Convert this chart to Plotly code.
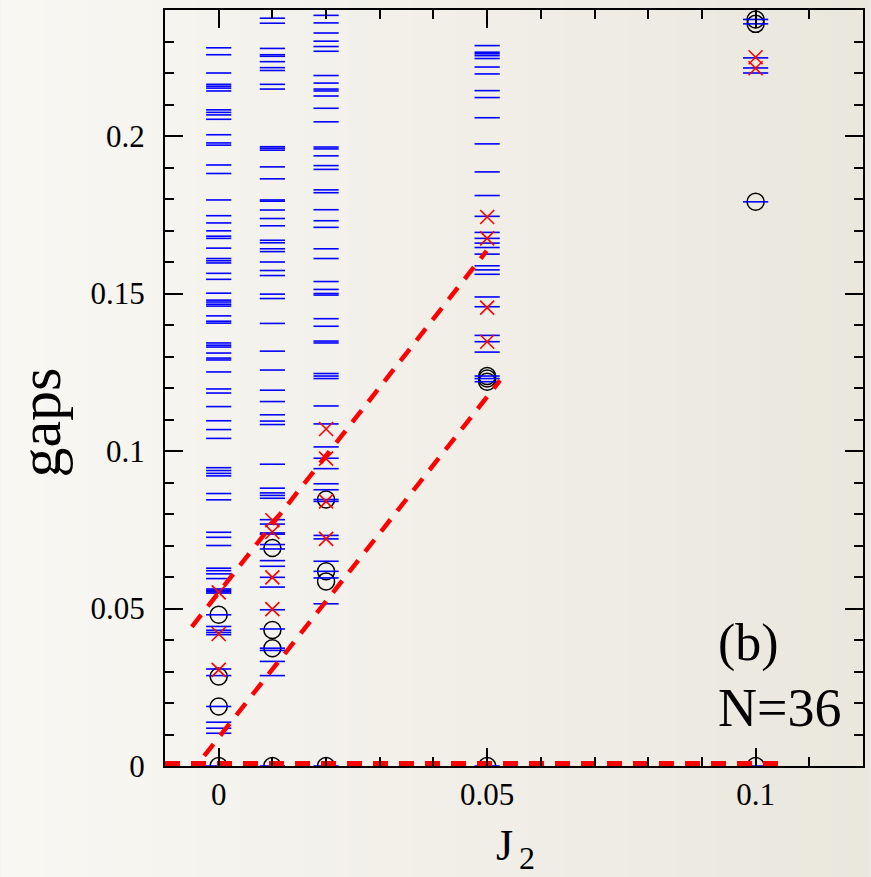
import plotly.graph_objects as go

# ---------------- data ----------------
J2_values = [0.0, 0.01, 0.02, 0.05, 0.1]

# blue dashes (spectrum levels)
blue_j000 = [0.2280, 0.2258, 0.2200, 0.2164, 0.2158, 0.2152, 0.2143, 0.2083, 0.2075, 0.2067,
             0.2053, 0.2004, 0.1978, 0.1971, 0.1908, 0.1881, 0.1797, 0.1747, 0.1724, 0.1699,
             0.1682, 0.1675, 0.1644, 0.1611, 0.1604, 0.1597, 0.1564, 0.1545, 0.1501, 0.1479,
             0.1473, 0.1466, 0.1460, 0.1429, 0.1412, 0.1406, 0.1343, 0.1336, 0.1330, 0.1311,
             0.1295, 0.1289, 0.1251, 0.1197, 0.1184, 0.1141, 0.1096, 0.1068, 0.1040, 0.0947,
             0.0938, 0.0929, 0.0921, 0.0865, 0.0845, 0.0742, 0.0726, 0.0700, 0.0628, 0.0620,
             0.0610, 0.0595, 0.0562, 0.0558, 0.0553, 0.0549, 0.0480, 0.0443, 0.0431, 0.0424,
             0.0417, 0.0308, 0.0287, 0.0189, 0.0139, 0.0120, 0.0104, 0.0]
blue_j001 = [0.2374, 0.2358, 0.2278, 0.2258, 0.2253, 0.2236, 0.2217, 0.2208, 0.2164, 0.2149,
             0.1966, 0.1961, 0.1955, 0.1902, 0.1864, 0.1797, 0.1793, 0.1765, 0.1738, 0.1715,
             0.1669, 0.1661, 0.1642, 0.1633, 0.1600, 0.1573, 0.1557, 0.1498, 0.1484, 0.1405,
             0.1317, 0.1257, 0.1193, 0.1157, 0.1115, 0.1095, 0.1084, 0.0958, 0.0882, 0.0867,
             0.0859, 0.0850, 0.0782, 0.0768, 0.0740, 0.0736, 0.0703, 0.0689, 0.0652, 0.0634,
             0.0599, 0.0568, 0.0496, 0.0435, 0.0374, 0.0367, 0.0332, 0.0287, 0.0]
blue_j002 = [0.2383, 0.2359, 0.2327, 0.2301, 0.2284, 0.2269, 0.2192, 0.2168, 0.2149, 0.2143,
             0.2127, 0.2088, 0.2045, 0.1965, 0.1959, 0.1937, 0.1906, 0.1894, 0.1829, 0.1820,
             0.1766, 0.1731, 0.1710, 0.1642, 0.1611, 0.1538, 0.1513, 0.1500, 0.1495, 0.1420,
             0.1396, 0.1349, 0.1343, 0.1246, 0.1238, 0.1230, 0.1143, 0.1086, 0.1013, 0.0977,
             0.0944, 0.0896, 0.0877, 0.0846, 0.0840, 0.0732, 0.0721, 0.0650, 0.0618, 0.0597,
             0.0515, 0.0]
blue_j005 = [0.2287, 0.2266, 0.2261, 0.2255, 0.2246, 0.2219, 0.2197, 0.2144, 0.2122, 0.2058,
             0.1975, 0.1886, 0.1811, 0.1745, 0.1694, 0.1675, 0.1660, 0.1646, 0.1625, 0.1588,
             0.1575, 0.1561, 0.1489, 0.1458, 0.1367, 0.1347, 0.1314, 0.1238, 0.1230, 0.1220, 0.0]
blue_j010 = [0.2370, 0.2356, 0.2248, 0.2216, 0.2200, 0.1791, 0.0]

# black circles
circ_j000 = [0.0480, 0.0284, 0.0189, 0.0]
circ_j001 = [0.0692, 0.0432, 0.0374, 0.0]
circ_j002 = [0.0846, 0.0618, 0.0586, 0.0]
circ_j005 = [0.1238, 0.1230, 0.1220, 0.0]
circ_j010 = [0.2370, 0.2356, 0.1791, 0.0]

# red crosses
cross_j000 = [0.0551, 0.0419, 0.0305]
cross_j001 = [0.0780, 0.0743, 0.0599, 0.0498]
cross_j002 = [0.1070, 0.0976, 0.0840, 0.0721]
cross_j005 = [0.1743, 0.1675, 0.1455, 0.1347]
cross_j010 = [0.2250, 0.2215]

# red dashed guide lines
upper_fit_x = [-0.005, 0.0499]
upper_fit_y = [0.0442, 0.1635]
lower_fit_x = [-0.0027, 0.0524]
lower_fit_y = [0.0032, 0.1224]
zero_fit_x = [-0.01, 0.1056]
zero_fit_y = [0.0, 0.0]

x_ticks = [0, 0.05, 0.1]
x_ticklabels = ["0", "0.05", "0.1"]
y_ticks = [0, 0.05, 0.1, 0.15, 0.2]
y_ticklabels = ["0", "0.05", "0.1", "0.15", "0.2"]

# ---------------- figure ----------------
def flatten(cols):
    xs, ys = [], []
    for xv, col in zip(J2_values, cols):
        xs += [xv] * len(col)
        ys += col
    return xs, ys

fig = go.Figure()

cx, cy = flatten([circ_j000, circ_j001, circ_j002, circ_j005, circ_j010])
fig.add_trace(go.Scatter(x=cx, y=cy, mode="markers",
                         marker=dict(symbol="circle-open", size=17, color="black",
                                     line=dict(color="black", width=1.5))))

bx, by = flatten([blue_j000, blue_j001, blue_j002, blue_j005, blue_j010])
fig.add_trace(go.Scatter(x=bx, y=by, mode="markers",
                         marker=dict(symbol="line-ew", size=18, color="#0000ff",
                                     line=dict(color="#0000ff", width=1.6))))

rx, ry = flatten([cross_j000, cross_j001, cross_j002, cross_j005, cross_j010])
fig.add_trace(go.Scatter(x=rx, y=ry, mode="markers",
                         marker=dict(symbol="x-thin", size=14, color="#ff0000",
                                     line=dict(color="#ff0000", width=1.6))))

for lx, ly, w in [(upper_fit_x, upper_fit_y, 4.5), (lower_fit_x, lower_fit_y, 4.5),
                  (zero_fit_x, zero_fit_y, 10)]:
    fig.add_trace(go.Scatter(x=lx, y=ly, mode="lines",
                             line=dict(color="#ff0000", width=w, dash="15px,11px")))

# background gradient strips
shapes = []
n = 40
x_left = -165 / 700
x_right = 1 + 6 / 700
c0 = (248, 247, 243)
c1 = (234, 231, 221)
for i in range(n):
    t = i / (n - 1)
    col = tuple(round(a + (b - a) * t) for a, b in zip(c0, c1))
    xa = x_left + (x_right - x_left) * i / n
    xb = x_left + (x_right - x_left) * (i + 1) / n + 0.002
    shapes.append(dict(type="rect", xref="paper", yref="paper", x0=xa, x1=xb,
                       y0=-0.2, y1=1.05, fillcolor="rgb(%d,%d,%d)" % col,
                       line=dict(width=0), layer="below"))

font_family = "Liberation Serif, Times New Roman, serif"

axis_common = dict(showline=True, linecolor="black", linewidth=2, mirror="allticks",
                   ticks="inside", ticklen=18, tickwidth=1.5, tickcolor="black",
                   showgrid=False, zeroline=False,
                   tickfont=dict(family=font_family, size=31, color="black"))

fig.update_layout(
    width=871, height=877,
    margin=dict(l=165, r=6, t=10, b=111),
    paper_bgcolor="#f3f2ec",
    plot_bgcolor="rgba(0,0,0,0)",
    showlegend=False,
    shapes=shapes,
    xaxis=dict(range=[-0.01, 0.12], tickmode="array", tickvals=x_ticks, ticktext=x_ticklabels,
               minor=dict(ticks="inside", ticklen=9, tickwidth=1.5, tickcolor="black",
                          dtick=0.01, tick0=0),
               ticklabelstandoff=0, **axis_common),
    yaxis=dict(range=[0, 0.24], tickmode="array", tickvals=y_ticks, ticktext=y_ticklabels,
               minor=dict(ticks="inside", ticklen=9, tickwidth=1.5, tickcolor="black",
                          dtick=0.01, tick0=0),
               ticklabelstandoff=12, **axis_common),
    annotations=[
        dict(text="gaps", xref="paper", yref="paper", x=-0.1786, y=0.4547,
             textangle=-90, showarrow=False, xanchor="center", yanchor="middle",
             font=dict(family=font_family, size=60, color="black")),
        dict(text="J", xref="paper", yref="paper", x=(505 - 165) / 700, y=(766 - 845) / 756,
             showarrow=False, xanchor="center", yanchor="middle",
             font=dict(family=font_family, size=44, color="black")),
        dict(text="2", xref="paper", yref="paper", x=(528 - 165) / 700, y=(766 - 858) / 756,
             showarrow=False, xanchor="center", yanchor="middle",
             font=dict(family=font_family, size=32, color="black")),
        dict(text="(b)", xref="paper", yref="paper", x=0.8357, y=0.1626,
             showarrow=False, xanchor="center", yanchor="middle",
             font=dict(family=font_family, size=52, color="black")),
        dict(text="N=36", xref="paper", yref="paper", x=0.88, y=0.0767,
             showarrow=False, xanchor="center", yanchor="middle",
             font=dict(family=font_family, size=54, color="black")),
    ],
)

fig.write_html("out.html")
